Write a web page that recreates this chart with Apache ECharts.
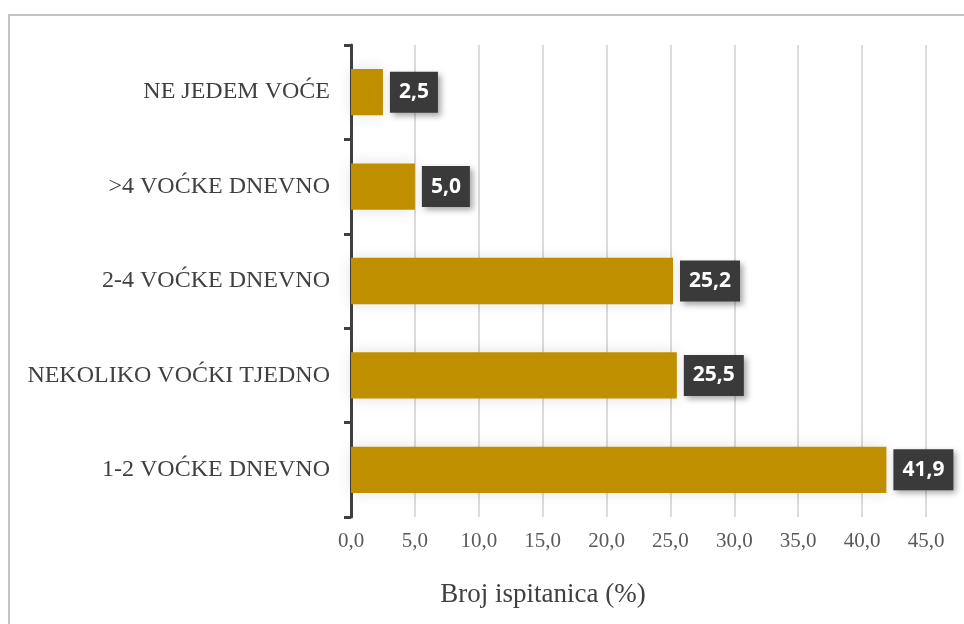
<!DOCTYPE html>
<html>
<head>
<meta charset="utf-8">
<script src="https://cdn.jsdelivr.net/npm/echarts@6/dist/echarts.min.js"></script>
<style>
  html, body { margin: 0; padding: 0; background: #fff; }
  #chart { width: 964px; height: 624px; }
</style>
</head>
<body>
<div id="chart"></div>
<script>
(function () {
    'use strict';

    // kategorije odozdo prema gore
    var categories = ['1-2 VOĆKE DNEVNO', 'NEKOLIKO VOĆKI TJEDNO', '2-4 VOĆKE DNEVNO', '>4 VOĆKE DNEVNO', 'NE JEDEM VOĆE'];
    var values = [41.9, 25.5, 25.2, 5.0, 2.5];
    var axisMin = 0;
    var axisMax = 45;
    var axisStep = 5;
    var axisTitle = 'Broj ispitanica (%)';

    function fmt(v) {
        return Number(v).toFixed(1).replace('.', ',');
    }

    var chart = echarts.init(document.getElementById('chart'), null, { renderer: 'canvas' });
    chart.setOption({
        animation: false,
        backgroundColor: '#ffffff',
        graphic: [{
            type: 'rect',
            shape: { x: 9, y: 15, width: 960, height: 620 },
            style: { fill: 'none', stroke: '#c4c4c4', lineWidth: 2 },
            silent: true
        }, {
            type: 'text',
            x: 543,
            y: 595,
            style: {
                text: axisTitle,
                fontFamily: 'Liberation Serif',
                fontSize: 27,
                fill: '#404040',
                align: 'center',
                verticalAlign: 'middle'
            },
            silent: true
        }],
        grid: { left: 351, right: 38, top: 45, bottom: 107 },
        xAxis: {
            type: 'value',
            min: axisMin,
            max: axisMax,
            interval: axisStep,
            axisLine: { show: false },
            axisTick: { show: false },
            axisLabel: {
                formatter: fmt,
                fontFamily: 'Liberation Serif',
                fontSize: 21,
                color: '#595959',
                margin: 14
            },
            splitLine: { lineStyle: { color: '#cfcfcf', width: 1.5 } }
        },
        yAxis: {
            type: 'category',
            data: categories,
            axisLine: { lineStyle: { color: '#404040', width: 3 } },
            axisTick: { show: true, interval: 0, length: 7, lineStyle: { color: '#404040', width: 3 } },
            axisLabel: {
                fontFamily: 'Liberation Serif',
                fontSize: 24,
                color: '#404040',
                margin: 21
            }
        },
        series: [{
            type: 'bar',
            data: values,
            barWidth: '49%',
            itemStyle: {
                color: '#bf8f00',
                shadowColor: 'rgba(0,0,0,0.12)',
                shadowBlur: 14
            },
            label: {
                show: true,
                position: 'right',
                distance: 7,
                formatter: function (p) { return fmt(p.value); },
                fontFamily: 'Open Sans',
                fontWeight: 'bold',
                fontSize: 21,
                lineHeight: 22,
                color: '#ffffff',
                backgroundColor: '#3a3a3a',
                padding: [10, 9, 9, 9],
                shadowColor: 'rgba(0,0,0,0.35)',
                shadowBlur: 6,
                shadowOffsetX: 3,
                shadowOffsetY: 3
            }
        }]
    });
})();
</script>
</body>
</html>
